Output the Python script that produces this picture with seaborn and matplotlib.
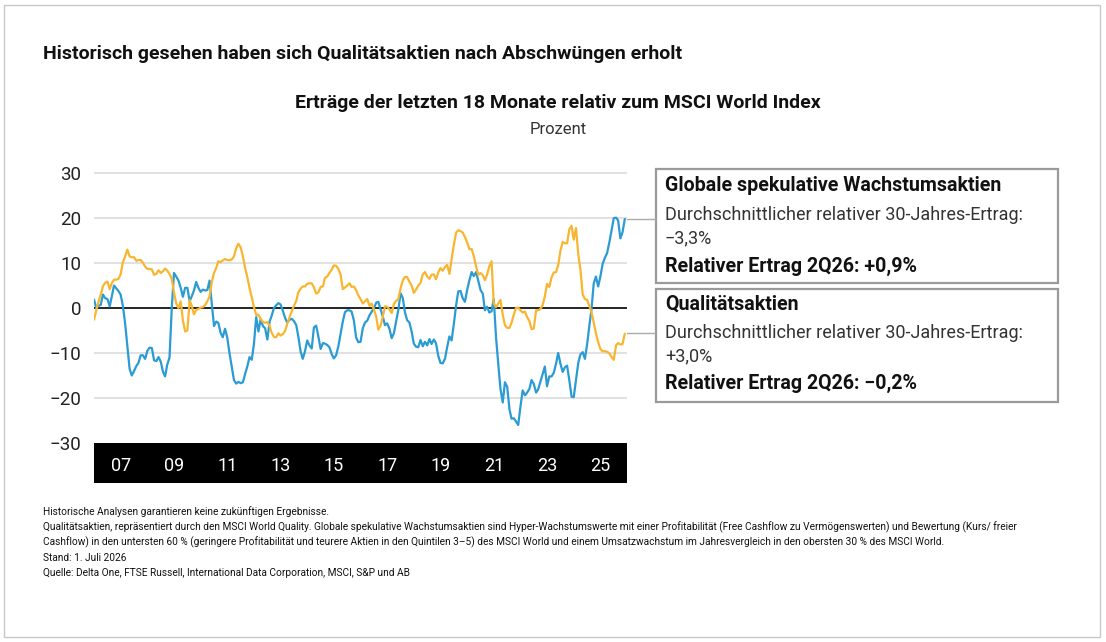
import pandas as pd
import matplotlib.pyplot as plt
import seaborn as sns
from matplotlib.patches import Rectangle

# monthly relative returns (%), Jul 2006 - Jun 2026
dates = pd.date_range('2006-07-01', periods=240, freq='MS')

growth = [1.9, 0, 0.5, 0.7, 3.0, 2.2, 2.0, 0.4, 2.5, 5.0, 4.4, 3.8,
          3.0, 0.5, -3.5, -8.5, -13.5, -15.0, -14.0, -12.9, -12.2, -10.5, -10.5, -11.3,
          -9.5, -8.8, -8.9, -11.6, -11.8, -10.9, -11.9, -14.2, -15.2, -12.5, -11.0, 0.0,
          7.8, 7.0, 6.1, 4.5, 2.5, 4.5, 4.5, 1.5, 2.6, 3.9, 5.8, 4.5,
          3.6, 4.1, 3.9, 4.0, 6.1, 1.0, -4.0, -3.0, -3.3, -5.5, -6.5, -4.6,
          -6.5, -10.0, -13.0, -16.0, -16.8, -16.4, -16.7, -16.5, -14.7, -13.0, -10.9, -11.5,
          -8.0, -2.0, -5.2, -2.5, -4.0, -4.5, -7.0, -3.0, -1.7, 0.0, 0.6, 1.1,
          0.8, -0.6, -2.2, -3.2, -2.6, -2.4, -2.9, -3.8, -6.3, -9.6, -11.3, -9.6,
          -7.2, -8.3, -9.0, -4.3, -3.9, -6.3, -9.1, -7.8, -7.9, -8.2, -8.7, -10.2,
          -11.2, -10.5, -8.5, -5.8, -3.0, -0.9, -0.5, -0.5, -0.8, -2.8, -6.5, -7.6,
          -7.5, -4.5, -3.2, -2.8, -1.6, -0.8, 0.0, 1.2, 1.4, -0.2, -1.8, -3.8,
          -3.4, -4.6, -6.7, -5.6, -3.0, -0.4, 3.3, 2.2, -0.9, -2.7, -3.2, -5.2,
          -7.9, -8.6, -8.7, -7.1, -8.5, -7.5, -8.3, -6.9, -8.0, -7.0, -7.8, -10.6,
          -12.2, -12.3, -11.3, -8.7, -6.3, -7.2, -3.5, 0.6, 3.7, 3.8, 2.2, 1.4,
          4.0, 6.2, 8.0, 7.1, 8.0, 6.0, 4.0, 3.2, -0.5, 0.3, -1.0, -0.7,
          2.0, -6.5, -12.5, -18.0, -21.0, -16.5, -17.5, -22.5, -24.6, -24.5, -25.2, -26.0,
          -22.0, -18.3, -19.4, -18.8, -18.0, -16.0, -16.9, -18.8, -18.1, -16.4, -14.8, -13.0,
          -17.4, -15.2, -15.2, -14.4, -12.4, -10.0, -12.4, -14.2, -13.2, -12.8, -16.0, -19.7,
          -19.8, -16.0, -12.2, -10.3, -9.8, -11.3, -8.0, -3.8, -0.3, 5.5, 7.0, 4.8,
          7.0, 9.8, 11.2, 12.2, 14.6, 17.2, 20.0, 20.1, 19.5, 15.5, 16.9, 19.8]

quality = [-2.6, -0.5, 1.4, 3.0, 4.9, 5.6, 5.9, 4.2, 5.5, 6.3, 6.3, 6.5,
           7.5, 10.2, 11.5, 13.0, 11.5, 11.3, 11.3, 10.5, 10.7, 10.7, 10.1, 9.2,
           8.7, 8.7, 8.6, 7.4, 7.6, 8.4, 7.8, 8.2, 8.8, 8.3, 7.6, 6.5,
           3.5, 1.0, 0.0, 1.5, -2.8, -5.2, -5.0, 1.8, 0.5, -1.4, -0.4, -0.2,
           0.1, 0.2, 0.7, 1.5, 2.6, 5.8, 7.8, 9.0, 10.4, 10.2, 10.6, 10.9,
           10.7, 10.6, 10.8, 11.5, 13.3, 14.3, 13.5, 11.5, 9.0, 6.9, 4.5, 2.4,
           0.2, -1.5, -1.5, -2.4, -3.1, -3.3, -3.1, -4.0, -5.5, -6.4, -6.5, -5.6,
           -6.1, -5.8, -5.1, -3.5, -2.1, -0.7, 0.5, 1.6, 3.5, 4.3, 4.8, 4.8,
           5.4, 5.5, 5.5, 4.6, 3.2, 3.5, 4.7, 4.8, 6.7, 7.0, 7.8, 8.5,
           9.5, 9.4, 8.7, 7.5, 4.2, 4.6, 5.0, 5.5, 4.7, 4.8, 4.0, 2.8,
           2.0, 1.0, 1.5, 2.0, 0.5, 1.0, -0.4, -1.9, -4.8, -3.9, -2.0, 0.4,
           0.3, -0.3, -1.1, 0.9, 1.6, 2.0, 4.4, 6.2, 6.9, 6.9, 5.9, 5.0,
           3.4, 4.1, 5.0, 5.6, 7.5, 8.0, 7.0, 6.5, 7.4, 7.5, 6.4, 7.9,
           8.9, 8.3, 9.1, 9.6, 7.6, 10.8, 14.1, 16.8, 17.3, 17.1, 16.8, 15.8,
           14.6, 13.1, 13.1, 11.5, 9.2, 7.4, 7.8, 7.3, 6.2, 7.5, 9.3, 10.4,
           1.0, 0.2, 1.0, 1.8, -1.5, -3.8, -4.4, -4.4, -3.3, -1.5, 0.0, 0.1,
           -0.5, -1.0, -0.8, -2.0, -2.9, -4.7, -4.5, -0.5, -0.5, -0.2, 0.6, 2.6,
           5.4, 4.7, 6.8, 7.9, 8.0, 9.5, 12.8, 14.7, 14.4, 14.4, 17.5, 18.3,
           15.2, 17.8, 12.0, 8.5, 3.0, 2.0, 1.8, 0.4, -0.9, -3.2, -5.6, -7.6,
           -9.1, -9.6, -9.6, -9.7, -10.1, -10.9, -11.5, -8.3, -7.8, -8.1, -8.0, -5.7]

series_names = ['Globale spekulative Wachstumsaktien', 'Qualitätsaktien']
colors = ['#2A9BD3', '#F8B630']
y_ticks = [30, 20, 10, 0, -10, -20, -30]
year_ticks = ['07', '09', '11', '13', '15', '17', '19', '21', '23', '25']

df = pd.DataFrame({'Datum': dates, series_names[0]: growth, series_names[1]: quality})
long = df.melt(id_vars='Datum', var_name='Serie', value_name='Wert')

sns.set_style('white')
plt.rcParams['font.family'] = ['Roboto', 'DejaVu Sans']

fig = plt.figure(figsize=(11.06, 6.42), dpi=100)
W, H = 1106, 642
ax = fig.add_axes([94 / W, 1 - 483 / H, 533 / W, 313 / H])

ax.axhspan(-38.9, -30, color='black', zorder=0, lw=0)
for v in y_ticks[:-1]:
    if v != 0:
        ax.axhline(v, color='#dcdcdc', lw=1.2, zorder=1)
ax.axhline(0, color='black', lw=1.2, zorder=2)

sns.lineplot(data=long, x='Datum', y='Wert', hue='Serie', palette=colors,
             hue_order=series_names, lw=1.6, legend=False, ax=ax, zorder=3)

ax.set_xlim(dates[0], pd.Timestamp('2026-07-01'))
ax.set_ylim(-38.9, 30.7)
ax.set_yticks(y_ticks)
ax.set_yticklabels([str(v).replace('-', '\u2212') for v in y_ticks], fontsize=13.5, color='#222222')
ax.set_xticks([pd.Timestamp(f'20{y}-07-01') for y in year_ticks])
ax.set_xticklabels(year_ticks, fontsize=13, color='white')
ax.tick_params(axis='y', length=0, pad=9)
ax.tick_params(axis='x', length=0, pad=-19)
ax.set_xlabel('')
ax.set_ylabel('')
for s in ax.spines.values():
    s.set_visible(False)

# leader lines from the line ends to the boxes
fig.add_artist(plt.Line2D([627 / W, 656 / W], [1 - 219 / H, 1 - 219 / H], color='#aaaaaa', lw=1))
fig.add_artist(plt.Line2D([627 / W, 656 / W], [1 - 333 / H, 1 - 333 / H], color='#aaaaaa', lw=1))

# boxes on the right
for top, bottom in [(169, 283), (289, 402)]:
    fig.add_artist(Rectangle((656 / W, 1 - bottom / H), 402 / W, (bottom - top) / H,
                             fill=False, edgecolor='#9a9a9a', lw=1.6))

def t(x, y, s, **kw):
    fig.text(x / W, 1 - y / H, s, va='center', **kw)

t(665, 186, 'Globale spekulative Wachstumsaktien', fontsize=14.1, fontweight='bold', color='#111111')
t(665, 215, 'Durchschnittlicher relativer 30-Jahres-Ertrag:', fontsize=13, color='#333333')
t(665, 238, '\u22123,3%', fontsize=13, color='#333333')
t(665, 266, 'Relativer Ertrag 2Q26: +0,9%', fontsize=14.1, fontweight='bold', color='#111111')
t(665, 304, 'Qualitätsaktien', fontsize=14.1, fontweight='bold', color='#111111')
t(665, 333, 'Durchschnittlicher relativer 30-Jahres-Ertrag:', fontsize=13, color='#333333')
t(665, 356, '+3,0%', fontsize=13, color='#333333')
t(665, 383, 'Relativer Ertrag 2Q26: \u22120,2%', fontsize=14.1, fontweight='bold', color='#111111')

# titles
t(43, 54, 'Historisch gesehen haben sich Qualitätsaktien nach Abschwüngen erholt',
  fontsize=14, fontweight='bold', color='#111111')
t(558, 103, 'Erträge der letzten 18 Monate relativ zum MSCI World Index',
  fontsize=14, fontweight='bold', color='#111111', ha='center')
t(558, 129, 'Prozent', fontsize=12, color='#333333', ha='center')

# footnotes
notes = [
    'Historische Analysen garantieren keine zukünftigen Ergebnisse.',
    'Qualitätsaktien, repräsentiert durch den MSCI World Quality. Globale spekulative Wachstumsaktien sind Hyper-Wachstumswerte mit einer Profitabilität (Free Cashflow zu Vermögenswerten) und Bewertung (Kurs/ freier',
    'Cashflow) in den untersten 60 % (geringere Profitabilität und teurere Aktien in den Quintilen 3\u20135) des MSCI World und einem Umsatzwachstum im Jahresvergleich in den obersten 30 % des MSCI World.',
    'Stand: 1. Juli 2026',
    'Quelle: Delta One, FTSE Russell, International Data Corporation, MSCI, S&P und AB',
]
for i, line in enumerate(notes):
    t(43, 512 + i * 15.2, line, fontsize=7.3, color='#111111')

fig.add_artist(Rectangle((4 / W, 5 / H), 1096 / W, 632 / H, fill=False, edgecolor='#c8c8c8', lw=1))

fig.savefig('out.png', dpi=100)
